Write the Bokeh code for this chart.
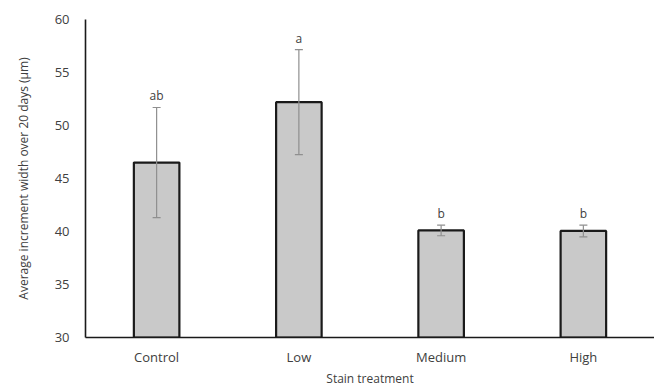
from bokeh.plotting import figure
from bokeh.models import ColumnDataSource, FactorRange, Range1d, Whisker, TeeHead, SingleIntervalTicker
from bokeh.core.properties import value
from bokeh.embed import file_html
from bokeh.resources import INLINE

categories = ["Control", "Low", "Medium", "High"]
means = [46.5, 52.2, 40.1, 40.05]
errors = [5.2, 4.95, 0.5, 0.55]
letters = ["ab", "a", "b", "b"]

upper = [m + e for m, e in zip(means, errors)]
lower = [m - e for m, e in zip(means, errors)]

src = ColumnDataSource(dict(cat=categories, mean=means, upper=upper, lower=lower, letter=letters))

FONT = "Open Sans"
TXT = "#404040"

p = figure(x_range=FactorRange(*categories, range_padding=0), y_range=Range1d(30, 60),
           width=654, height=389, output_backend="svg", toolbar_location=None,
           min_border_left=85, min_border_right=0, min_border_top=19, min_border_bottom=30)
p.outline_line_color = None
p.xgrid.grid_line_color = None
p.ygrid.grid_line_color = None

p.vbar(x="cat", top="mean", bottom=30, width=0.32, source=src,
       fill_color="#c9c9c9", line_color="#1a1a1a", line_width=2.2)

w = Whisker(base="cat", upper="upper", lower="lower", source=src, level="overlay",
            line_color="#8f8f8f", line_width=1.2,
            upper_head=TeeHead(size=8, line_color="#8f8f8f", line_width=1.2),
            lower_head=TeeHead(size=8, line_color="#8f8f8f", line_width=1.2))
p.add_layout(w)

p.text(x="cat", y="upper", text="letter", source=src, text_align="center",
       text_baseline="bottom", y_offset=-3, text_font=value(FONT), text_font_size="12px",
       text_color=TXT)

p.yaxis.ticker = SingleIntervalTicker(interval=5)
for ax in (p.xaxis[0], p.yaxis[0]):
    ax.axis_line_color = "#1a1a1a"
    ax.axis_line_width = 1.6
    ax.major_tick_line_color = None
    ax.minor_tick_line_color = None
    ax.major_tick_out = 0
    ax.major_tick_in = 0
    ax.minor_tick_out = 0
    ax.major_label_text_font = FONT
    ax.major_label_text_font_size = "13px"
    ax.major_label_text_color = TXT
    ax.axis_label_text_font = FONT
    ax.axis_label_text_font_size = "12px"
    ax.axis_label_text_font_style = "normal"
    ax.axis_label_text_color = TXT
p.yaxis.major_label_standoff = 16
p.xaxis.major_label_standoff = 10
p.yaxis.axis_label = "Average increment width over 20 days (μm)"
p.xaxis.axis_label = "Stain treatment"
p.yaxis.axis_label_standoff = 20
p.xaxis.axis_label_standoff = 1

open("out.html", "w").write(file_html(p, INLINE))
